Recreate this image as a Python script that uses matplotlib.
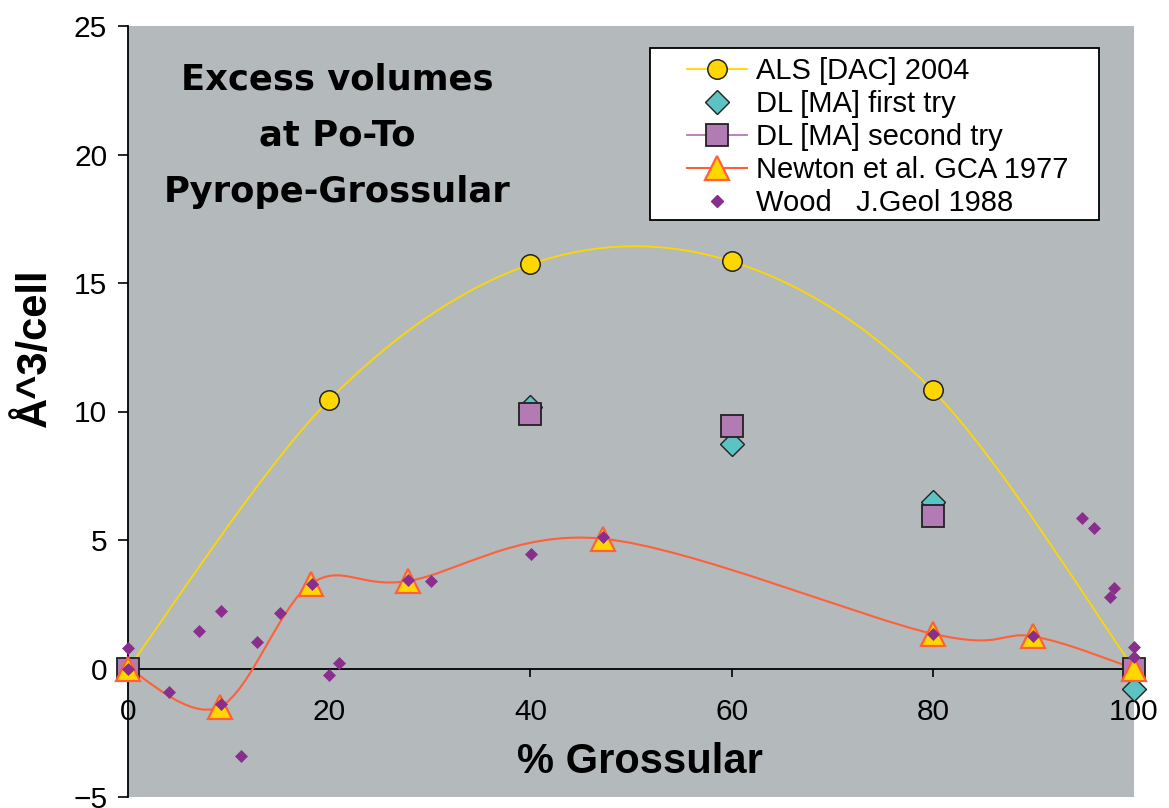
import matplotlib
matplotlib.use("Agg")
import matplotlib.pyplot as plt
import numpy as np
from matplotlib.path import Path
from matplotlib.patches import PathPatch, Rectangle
from matplotlib.lines import Line2D

plt.rcParams["font.family"] = ["Liberation Sans", "DejaVu Sans"]

# ---- data -------------------------------------------------------------
als_x = [0, 20, 40, 60, 80, 100]
als_y = [0.0, 10.45, 15.73, 15.84, 10.82, 0.0]

dl1_x = [40, 60, 80, 100]
dl1_y = [10.18, 8.73, 6.47, -0.8]

dl2_x = [0, 40, 60, 80, 100]
dl2_y = [0.0, 9.9, 9.43, 5.95, 0.0]

newton_x = [0, 9.1, 18.2, 27.8, 47.2, 80, 90, 100]
newton_y = [0.0, -1.5, 3.3, 3.4, 5.05, 1.35, 1.25, 0.0]

wood_x = [0, 0, 4.1, 7.1, 9.2, 9.2, 11.2, 12.8, 15.1, 18.3, 20.0, 21.0,
          27.8, 30.1, 40.1, 47.2, 80.0, 90.0, 94.8, 96.0, 97.6, 98.0, 100, 100]
wood_y = [0.8, 0.0, -0.9, 1.45, 2.25, -1.4, -3.4, 1.05, 2.15, 3.3, -0.25, 0.2,
          3.45, 3.4, 4.45, 5.1, 1.35, 1.25, 5.85, 5.45, 2.8, 3.15, 0.85, 0.45]

x_ticks = [0, 20, 40, 60, 80, 100]
y_ticks = [-5, 0, 5, 10, 15, 20, 25]

labels = ["ALS [DAC] 2004", "DL [MA] first try", "DL [MA] second try",
          "Newton et al. GCA 1977", "Wood   J.Geol 1988"]

# ---- colours ----------------------------------------------------------
BG = "#B4B9BC"
YELLOW = "#FFD700"
ORANGE = "#FF6038"
TEAL = "#5CC3C3"
MAUVE = "#B27BB4"
PLUM = "#8A2E8E"
EDGE = "#222222"


def smooth_path(x, y):
    """Cubic Bezier spline through the points (Catmull-Rom style tangents)."""
    pts = np.column_stack([x, y]).astype(float)
    n = len(pts)
    verts = [pts[0]]
    codes = [Path.MOVETO]
    for i in range(n - 1):
        p0 = pts[max(i - 1, 0)]
        p1 = pts[i]
        p2 = pts[i + 1]
        p3 = pts[min(i + 2, n - 1)]
        c1 = p1 + (p2 - p0) / 6.0
        c2 = p2 - (p3 - p1) / 6.0
        verts += [c1, c2, p2]
        codes += [Path.CURVE4] * 3
    return Path(verts, codes)


W, H = 1169, 808
fig = plt.figure(figsize=(W / 100, H / 100), dpi=100)
ax = fig.add_axes([128 / W, 11 / H, 1006 / W, 771 / H])
ax.set_facecolor(BG)
ax.set_xlim(0, 100)
ax.set_ylim(-5, 25)

# smoothed series lines
ax.add_patch(PathPatch(smooth_path(als_x, als_y), facecolor="none",
                       edgecolor=YELLOW, lw=1.3, zorder=3))
ax.add_patch(PathPatch(smooth_path(newton_x, newton_y), facecolor="none",
                       edgecolor=ORANGE, lw=1.5, zorder=3))

# markers
ax.plot(als_x, als_y, ls="none", marker="o", ms=14, mfc=YELLOW, mec=EDGE,
        mew=1.1, zorder=4, clip_on=False)
ax.plot(dl1_x, dl1_y, ls="none", marker="D", ms=12.6, mfc=TEAL, mec=EDGE,
        mew=1.0, zorder=5, clip_on=False)
ax.plot(dl2_x, dl2_y, ls="none", marker="s", ms=16, mfc=MAUVE, mec=EDGE,
        mew=1.3, zorder=6, clip_on=False)
ax.plot(newton_x, newton_y, ls="none", marker="^", ms=17, mfc=YELLOW,
        mec=ORANGE, mew=1.6, zorder=7, clip_on=False)
ax.plot(wood_x, wood_y, ls="none", marker="D", ms=6.6, mfc=PLUM, mec=PLUM,
        mew=0.5, zorder=8, clip_on=False)

# axes styling: x axis crosses at y = 0
for side in ("top", "right"):
    ax.spines[side].set_visible(False)
ax.spines["bottom"].set_position(("data", 0))
ax.spines["bottom"].set_linewidth(1.3)
ax.spines["left"].set_linewidth(1.3)
ax.set_xticks(x_ticks)
ax.set_yticks(y_ticks)
ax.tick_params(axis="x", direction="out", length=6, width=1.2, pad=15,
               labelsize=21.5)
ax.tick_params(axis="y", direction="out", length=7, width=1.2, pad=8,
               labelsize=21.5)

# axis titles
fig.text(640 / W, 1 - 762 / H, "% Grossular", ha="center", va="center",
         fontsize=30, fontweight="bold")
fig.text(35 / W, 1 - 348 / H, "Å^3/cell", ha="center", va="center",
         rotation=90, fontsize=30, fontweight="bold")

# chart caption
title_lines = ["Excess volumes", "at Po-To", "Pyrope-Grossular"]
baselines = [89, 146, 202]
for line, yb in zip(title_lines, baselines):
    fig.text(337 / W, 1 - yb / H, line, ha="center", va="baseline",
             fontsize=25.5, fontweight="bold", family="DejaVu Sans")

# legend box and entries
fig.add_artist(Rectangle((650 / W, 1 - 220 / H), 449 / W, 172 / H,
                         transform=fig.transFigure, facecolor="white",
                         edgecolor="black", lw=1.3, zorder=4))
handles = [
    Line2D([], [], color=YELLOW, lw=1.3, marker="o", ms=14, mfc=YELLOW,
           mec=EDGE, mew=1.1),
    Line2D([], [], ls="none", marker="D", ms=12.6, mfc=TEAL, mec=EDGE,
           mew=1.0),
    Line2D([], [], color=MAUVE, lw=1.3, marker="s", ms=16, mfc=MAUVE,
           mec=EDGE, mew=1.3),
    Line2D([], [], color=ORANGE, lw=1.5, marker="^", ms=17, mfc=YELLOW,
           mec=ORANGE, mew=1.6),
    Line2D([], [], ls="none", marker="D", ms=6.6, mfc=PLUM, mec=PLUM),
]
leg = fig.legend(handles, labels, loc="upper left",
                 bbox_to_anchor=(687 / W, 1 - 57 / H), frameon=False,
                 fontsize=21, handlelength=2.05, handletextpad=0.3,
                 labelspacing=0.17, borderpad=0, borderaxespad=0)
leg.set_zorder(5)

fig.savefig("out.png", dpi=100, facecolor="white")
